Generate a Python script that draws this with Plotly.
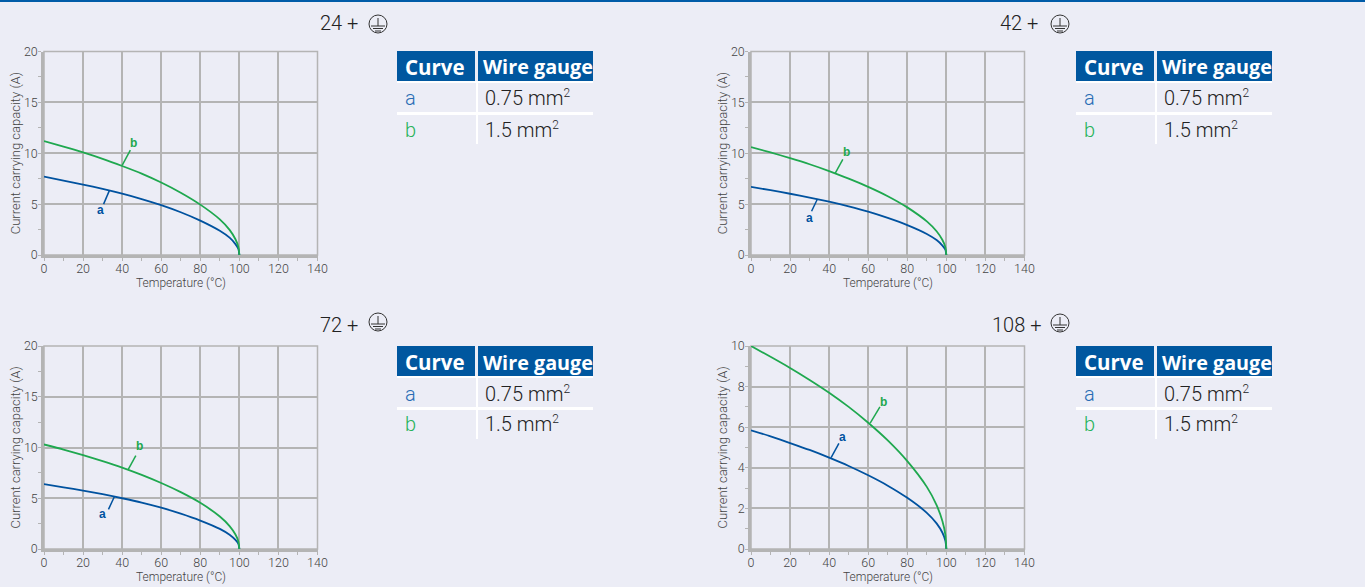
import plotly.graph_objects as go

W, H = 1365, 587
BG = "#ecedf6"
BLUE = "#00529f"
GREEN = "#1fa84f"
GRID = "#b4b4b4"
TXT = "#444444"
FONT = "Roboto Light, Roboto"

temps = [0, 10, 20, 30, 40, 50, 60, 70, 80, 90, 95, 98, 99.5, 100]

a_24 = [7.7, 7.32, 6.92, 6.5, 6.03, 5.5, 4.9, 4.2, 3.38, 2.38, 1.7, 1.07, 0.6, 0]
b_24 = [11.2, 10.66, 10.08, 9.45, 8.75, 8.0, 7.12, 6.12, 4.95, 3.5, 2.47, 1.55, 0.8, 0]
a_42 = [6.7, 6.37, 6.02, 5.65, 5.24, 4.78, 4.26, 3.64, 2.94, 2.07, 1.47, 0.93, 0.52, 0]
b_42 = [10.6, 10.08, 9.52, 8.92, 8.25, 7.5, 6.7, 5.78, 4.68, 3.3, 2.33, 1.47, 0.76, 0]
a_72 = [6.4, 6.08, 5.75, 5.4, 5.0, 4.57, 4.07, 3.48, 2.8, 1.98, 1.4, 0.89, 0.5, 0]
b_72 = [10.3, 9.8, 9.25, 8.66, 8.02, 7.3, 6.5, 5.6, 4.55, 3.2, 2.26, 1.43, 0.74, 0]
a_108 = [5.85, 5.55, 5.22, 4.88, 4.5, 4.09, 3.63, 3.12, 2.52, 1.78, 1.26, 0.8, 0.41, 0]
b_108 = [10.0, 9.47, 8.92, 8.33, 7.7, 7.0, 6.22, 5.35, 4.33, 3.06, 2.16, 1.37, 0.7, 0]

titles = ["24 +", "42 +", "72 +", "108 +"]
x_ticks = [0, 20, 40, 60, 80, 100, 120, 140]
x_title = "Temperature (°C)"
y_title = "Current carrying capacity (A)"
table_head = ["Curve", "Wire gauge"]
table_curves = ["a", "b"]
table_gauges = ['0.75 mm<sup><span style="font-size:12px">2</span></sup>',
                '1.5 mm<sup><span style="font-size:12px">2</span></sup>']

panels = [
    dict(a=a_24, b=b_24, ymax=20, dy=5, minor=2.5, left=44, top=51.5, bottom=255,
         title=titles[0], tx=360, ty=23, sx=378, sy=24, table=(397, 51),
         la=[(33.5, 6.35), (30.5, 5.0)], lb=[(40, 8.8), (44.2, 10.3)], pa=(29, 4.4), pb=(45.8, 11.05)),
    dict(a=a_42, b=b_42, ymax=20, dy=5, minor=2.5, left=751, top=51.5, bottom=255,
         title=titles[1], tx=1040, ty=23, sx=1060, sy=24, table=(1076, 51),
         la=[(34, 5.5), (31, 4.3)], lb=[(43, 8.0), (47, 9.4)], pa=(30, 3.65), pb=(49, 10.15)),
    dict(a=a_72, b=b_72, ymax=20, dy=5, minor=2.5, left=44, top=346, bottom=549,
         title=titles[2], tx=360, ty=325, sx=378, sy=322, table=(397, 346),
         la=[(36, 5.15), (33, 3.9)], lb=[(43, 7.8), (47, 9.2)], pa=(30, 3.4), pb=(49, 10.15)),
    dict(a=a_108, b=b_108, ymax=10, dy=2, minor=1, left=751, top=346, bottom=549,
         title=titles[3], tx=1043, ty=325, sx=1060, sy=323, table=(1076, 346),
         la=[(41, 4.5), (45, 5.2)], lb=[(61, 6.2), (66, 7.0)], pa=(47, 5.5), pb=(68, 7.25)),
]

PLOT_W = 273.5


def px(v):
    return v / W


def py(v):
    return 1 - v / H


fig = go.Figure()
shapes = [dict(type="rect", xref="paper", yref="paper", x0=0, x1=1, y0=py(2), y1=1,
               fillcolor="#005ca8", line_width=0, layer="below")]
annotations = []


def text(x, y, s, size, color, xanchor="left", bold=False, family=FONT, angle=0):
    annotations.append(dict(xref="paper", yref="paper", x=px(x), y=py(y), text=f"<b>{s}</b>" if bold else s,
                            showarrow=False, xanchor=xanchor, yanchor="middle", textangle=angle,
                            font=dict(size=size, color=color, family=family)))


def rect(x0, y0, x1, y1, fill):
    shapes.append(dict(type="rect", xref="paper", yref="paper", x0=px(x0), x1=px(x1), y0=py(y0), y1=py(y1),
                       fillcolor=fill, line_width=0, layer="below"))


def seg(x0, y0, x1, y1, color="#333333", width=1):
    shapes.append(dict(type="line", xref="paper", yref="paper", x0=px(x0), x1=px(x1), y0=py(y0), y1=py(y1),
                       line=dict(color=color, width=width)))


for i, p in enumerate(panels, start=1):
    suffix = "" if i == 1 else str(i)
    xa, ya = f"x{suffix}", f"y{suffix}"
    layout_x = f"xaxis{suffix}"
    layout_y = f"yaxis{suffix}"
    fig.update_layout({
        layout_x: dict(domain=[px(p["left"]), px(p["left"] + PLOT_W)], range=[0, 140], anchor=ya,
                       automargin=False, ticklabelstandoff=-3,
                       tickmode="array", tickvals=x_ticks, showgrid=True, gridcolor=GRID, gridwidth=1.5,
                       showline=True, linecolor=GRID, linewidth=2.5, ticks="outside", ticklen=3,
                       tickcolor=GRID, tickfont=dict(size=12.5, color=TXT, family=FONT), zeroline=False,
                       minor=dict(dtick=10, ticks="outside", ticklen=3, tickcolor=GRID, showgrid=False)),
        layout_y: dict(domain=[py(p["bottom"]), py(p["top"])], range=[0, p["ymax"]], anchor=xa,
                       automargin=False, ticklabelstandoff=-2,
                       dtick=p["dy"], showgrid=True, gridcolor=GRID, gridwidth=1.5,
                       showline=True, linecolor=GRID, linewidth=2.5, ticks="outside", ticklen=3,
                       tickcolor=GRID, tickfont=dict(size=12.5, color=TXT, family=FONT), zeroline=False,
                       minor=dict(dtick=p["minor"], ticks="outside", ticklen=3, tickcolor=GRID, showgrid=False)),
    })
    # axis titles
    text(p["left"] + PLOT_W / 2, p["bottom"] + 27.5, x_title, 12, TXT, xanchor="center")
    text(p["left"] - 29, (p["top"] + p["bottom"]) / 2, y_title, 13, TXT, xanchor="center", angle=-90)
    # frame top/right
    shapes.append(dict(type="rect", xref=f"{xa} domain", yref=f"{ya} domain", x0=0, x1=1, y0=0, y1=1,
                       line=dict(color=GRID, width=1.5), layer="below"))
    for key, color, leader, lab, name in (("a", BLUE, p["la"], p["pa"], "a"), ("b", GREEN, p["lb"], p["pb"], "b")):
        fig.add_trace(go.Scatter(x=temps, y=p[key], mode="lines", xaxis=xa, yaxis=ya, showlegend=False,
                                 line=dict(color=color, width=1.8, shape="spline", smoothing=0.6), cliponaxis=False))
        fig.add_trace(go.Scatter(x=[q[0] for q in leader], y=[q[1] for q in leader], mode="lines", xaxis=xa,
                                 yaxis=ya, showlegend=False, line=dict(color=color, width=1.5)))
        annotations.append(dict(xref=xa, yref=ya, x=lab[0], y=lab[1], text=f"<b>{name}</b>", showarrow=False,
                                font=dict(size=12, color=color, family="Liberation Sans")))

    # heading with earth symbol
    text(p["tx"], p["ty"], p["title"], 20, "#222222", xanchor="right")
    sx, sy = p["sx"], p["sy"]
    shapes.append(dict(type="circle", xref="paper", yref="paper", x0=px(sx - 9), x1=px(sx + 9), y0=py(sy + 9),
                       y1=py(sy - 9), line=dict(color="#333333", width=1)))
    seg(sx, sy - 6, sx, sy + 2)
    seg(sx - 7, sy + 2, sx + 7, sy + 2)
    seg(sx - 5, sy + 4.5, sx + 5, sy + 4.5)
    seg(sx - 3, sy + 7, sx + 3, sy + 7)

    # table
    tx, ty = p["table"]
    rect(tx, ty, tx + 78, ty + 30, "#00579f")
    rect(tx + 81, ty, tx + 196, ty + 30, "#00579f")
    rect(tx, ty + 30, tx + 196, ty + 32, "#ffffff")
    rect(tx, ty + 61, tx + 196, ty + 64, "#ffffff")
    rect(tx + 79, ty + 30, tx + 81, ty + 93, "#ffffff")
    text(tx + 6, ty + 16, table_head[0], 20.5, "#ffffff", bold=True, family="Open Sans")
    text(tx + 84, ty + 16, table_head[1], 19.8, "#ffffff", bold=True, family="Open Sans")
    for row, (c, g, col) in enumerate(zip(table_curves, table_gauges, ("#2a6db5", "#27b35a"))):
        y = ty + 47.5 + row * 31
        text(tx + 6, y, c, 20, col)
        text(tx + 86, y, g, 20, "#222222")

fig.update_layout(width=W, height=H, margin=dict(l=0, r=0, t=0, b=0), paper_bgcolor=BG, plot_bgcolor=BG,
                  showlegend=False, shapes=shapes, annotations=annotations, font=dict(family=FONT))
fig.write_html("out.html", config={"displayModeBar": False},
               post_script="document.body.style.margin='0';document.body.style.overflow='hidden';")
